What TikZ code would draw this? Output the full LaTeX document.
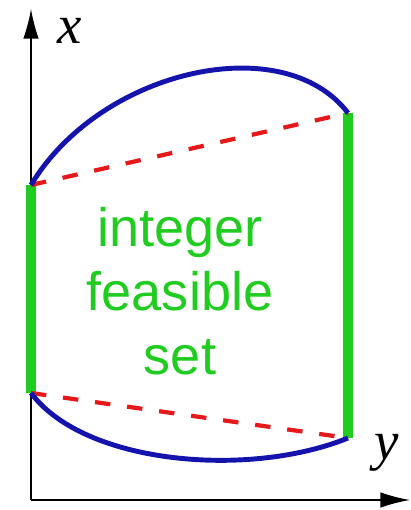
\documentclass[tikz,border=0pt]{standalone}
\usepackage{fontspec}
\setmainfont{Liberation Serif}
\newfontfamily\labelfont{Liberation Sans}
\usetikzlibrary{arrows.meta}
\definecolor{blue}{rgb}{0.08, 0.08, 0.68}
\definecolor{green}{rgb}{0.12, 0.8, 0.12}
\definecolor{red}{rgb}{0.9, 0.1, 0.1}

\begin{document}
\begin{tikzpicture}[x=0.025cm, y=-0.025cm,
    axis/.style={line width=1.1pt, black, -{Latex[length=21pt, width=11pt]}},
    bound/.style={line width=3.5pt, blue},
    cut/.style={line width=3pt, red, dash pattern=on 11pt off 12pt},
    side/.style={line width=7.5pt, green}]
    \useasboundingbox (0,0) rectangle (410,510);

    \coordinate (O) at (31,500);
    \coordinate (xtop) at (31,9);
    \coordinate (yend) at (410,500);
    \coordinate (A) at (31,185);
    \coordinate (B) at (348,113);
    \coordinate (C) at (348,438);
    \coordinate (D) at (31,393);

    \draw[axis] (O) -- (xtop);
    \draw[axis] (O) -- (yend);
    \node (xlab) at (70,31) {\fontsize{39}{39}\selectfont\itshape x};
    \node (ylab) at (387,453) {\fontsize{39}{39}\selectfont\itshape y};

    \draw[side] (D) -- (A);
    \draw[side] (B) -- (C);

    \draw[cut] (A) -- (B);
    \draw[cut] (D) -- (C);

    \draw[bound] (A) .. controls (100,70) and (283,28) .. (B);
    \draw[bound] (D) .. controls (85,465) and (250,478) .. (C);

    \node[align=center, inner sep=0, text=green, font=\labelfont\fontsize{38.5}{45.7}\selectfont] (label) at (180,291) {integer\\feasible\\set};
\end{tikzpicture}
\end{document}
